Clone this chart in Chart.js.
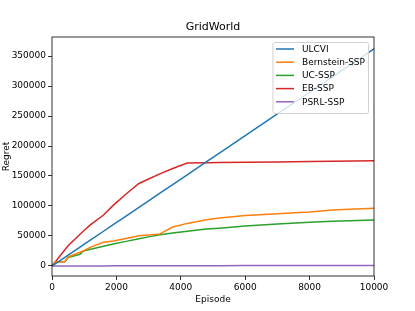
<!DOCTYPE html>
<html>
<head>
<meta charset="utf-8">
<script src="https://cdn.jsdelivr.net/npm/chart.js@4.4.1/dist/chart.umd.min.js"></script>
<style>
  html, body { margin: 0; padding: 0; background: #fff; }
  #wrap { width: 415px; height: 311px; position: relative; }
</style>
</head>
<body>
<div id="wrap"><canvas id="regretChart"></canvas></div>
<script>
// episodes shared by every curve
var episodes = [0, 100, 400, 500, 870, 970, 1200, 1600, 1900, 2300, 2700, 3000, 3350, 3750, 4200, 4800, 5200, 6000, 7000, 8000, 8700, 10000];

var ulcvi      = [0, 3600, 14500, 18100, 31500, 35100, 43400, 57900, 68800, 83300, 97700, 108600, 121300, 135800, 152000, 173800, 188200, 217200, 253400, 289600, 314900, 362000];
var bernstein  = [0, 7000, 7200, 15000, 22800, 25000, 31500, 39500, 41700, 45800, 50200, 51800, 53500, 65000, 71000, 77000, 80000, 84000, 87000, 90000, 93300, 96300];
var ucSsp      = [0, 7000, 7200, 14000, 19400, 25000, 28000, 33000, 36500, 41000, 45500, 48500, 52000, 55000, 58000, 61500, 63000, 66500, 70000, 73000, 74500, 76800];
var ebSsp      = [0, 6700, 27000, 33800, 53000, 58000, 69000, 85000, 101000, 120000, 137500, 145000, 153500, 162500, 171500, 172000, 172300, 172800, 173500, 174200, 174700, 175500];
var psrlSsp    = [0, 10, 40, 50, 90, 100, 120, 160, 190, 230, 270, 300, 340, 380, 420, 480, 520, 600, 700, 800, 870, 1000];

var seriesNames = ['ULCVI', 'Bernstein-SSP', 'UC-SSP', 'EB-SSP', 'PSRL-SSP'];
var xTicks = [0, 2000, 4000, 6000, 8000, 10000];
var yTicks = [0, 50000, 100000, 150000, 200000, 250000, 300000, 350000];

function pts(vals) {
  return episodes.map(function(e, i) { return { x: e, y: vals[i] }; });
}

Chart.defaults.font.family = '"DejaVu Sans", sans-serif';
Chart.defaults.font.size = 9;
Chart.defaults.color = '#000';

// legend drawn inside the plot, top right, like matplotlib
var innerLegend = {
  id: 'innerLegend',
  afterDraw: function(chart) {
    var ctx = chart.ctx, area = chart.chartArea;
    var sets = chart.data.datasets;
    var rowH = 13.2;
    ctx.save();
    ctx.font = '9px "DejaVu Sans"';
    var textW = 0;
    sets.forEach(function(d) { textW = Math.max(textW, ctx.measureText(d.label).width); });
    var w = 3.5 + 18 + 8 + textW + 3;
    var h = sets.length * rowH + 5;
    var x = area.right - 6 - w, y = area.top + 5;
    ctx.globalAlpha = 0.8;
    ctx.fillStyle = '#fff';
    ctx.beginPath();
    ctx.roundRect(x + 0.5, y + 0.5, w, h, 2);
    ctx.fill();
    ctx.globalAlpha = 1;
    ctx.strokeStyle = '#d0d0d0';
    ctx.lineWidth = 1;
    ctx.stroke();
    ctx.textBaseline = 'middle';
    ctx.fillStyle = '#000';
    sets.forEach(function(d, i) {
      var cy = y + 7 + i * rowH;
      ctx.strokeStyle = d.borderColor;
      ctx.lineWidth = 1.5;
      ctx.beginPath();
      ctx.moveTo(x + 3.5, cy);
      ctx.lineTo(x + 21.5, cy);
      ctx.stroke();
      ctx.fillText(d.label, x + 29.5, cy + 0.5);
    });
    ctx.restore();
  }
};

// frame + title centred over the plot area
var frameTitle = {
  id: 'frameTitle',
  afterDraw: function(chart) {
    var ctx = chart.ctx, a = chart.chartArea;
    ctx.save();
    ctx.strokeStyle = '#000';
    ctx.lineWidth = 0.8;
    ctx.strokeRect(a.left, a.top, a.right - a.left, a.bottom - a.top);
    ctx.font = '11px "DejaVu Sans"';
    ctx.textAlign = 'center';
    ctx.textBaseline = 'middle';
    ctx.fillStyle = '#000';
    ctx.fillText('GridWorld', (a.left + a.right) / 2, a.top - 9.5);
    ctx.restore();
  }
};

var colors = ['#1f77b4', '#ff7f0e', '#2ca02c', '#d62728', '#9467bd'];
var values = [ulcvi, bernstein, ucSsp, ebSsp, psrlSsp];

var ctx = document.getElementById('regretChart').getContext('2d');
new Chart(ctx, {
  type: 'line',
  data: {
    datasets: values.map(function(v, i) {
      return {
        label: seriesNames[i],
        data: pts(v),
        borderColor: colors[i],
        backgroundColor: colors[i],
        borderWidth: 1.5,
        pointRadius: 0,
        tension: 0,
        fill: false
      };
    })
  },
  options: {
    responsive: true,
    maintainAspectRatio: false,
    animation: false,
    layout: { padding: { left: 0, right: 41, top: 37, bottom: 0 } },
    plugins: {
      legend: { display: false },
      title: { display: false },
      tooltip: { enabled: false }
    },
    scales: {
      x: {
        type: 'linear',
        min: 0,
        max: 10000,
        afterBuildTicks: function(s) { s.ticks = xTicks.map(function(v) { return { value: v }; }); },
        afterFit: function(s) { s.height = 35; },
        ticks: { padding: 2, maxRotation: 0, callback: function(v) { return String(v); } },
        grid: { drawOnChartArea: false, drawTicks: true, tickLength: 4, color: '#000', lineWidth: 0.8 },
        border: { display: false },
        title: { display: true, text: 'Episode', padding: { top: 0, bottom: 6 } }
      },
      y: {
        type: 'linear',
        min: -16700,
        max: 381700,
        afterBuildTicks: function(s) { s.ticks = yTicks.map(function(v) { return { value: v }; }); },
        afterFit: function(s) { s.width = 52; },
        ticks: { padding: 2, callback: function(v) { return String(v); } },
        grid: { drawOnChartArea: false, drawTicks: true, tickLength: 4, color: '#000', lineWidth: 0.8 },
        border: { display: false },
        title: { display: true, text: 'Regret', padding: { top: 1, bottom: 0 } }
      }
    }
  },
  plugins: [innerLegend, frameTitle]
});
</script>
</body>
</html>
